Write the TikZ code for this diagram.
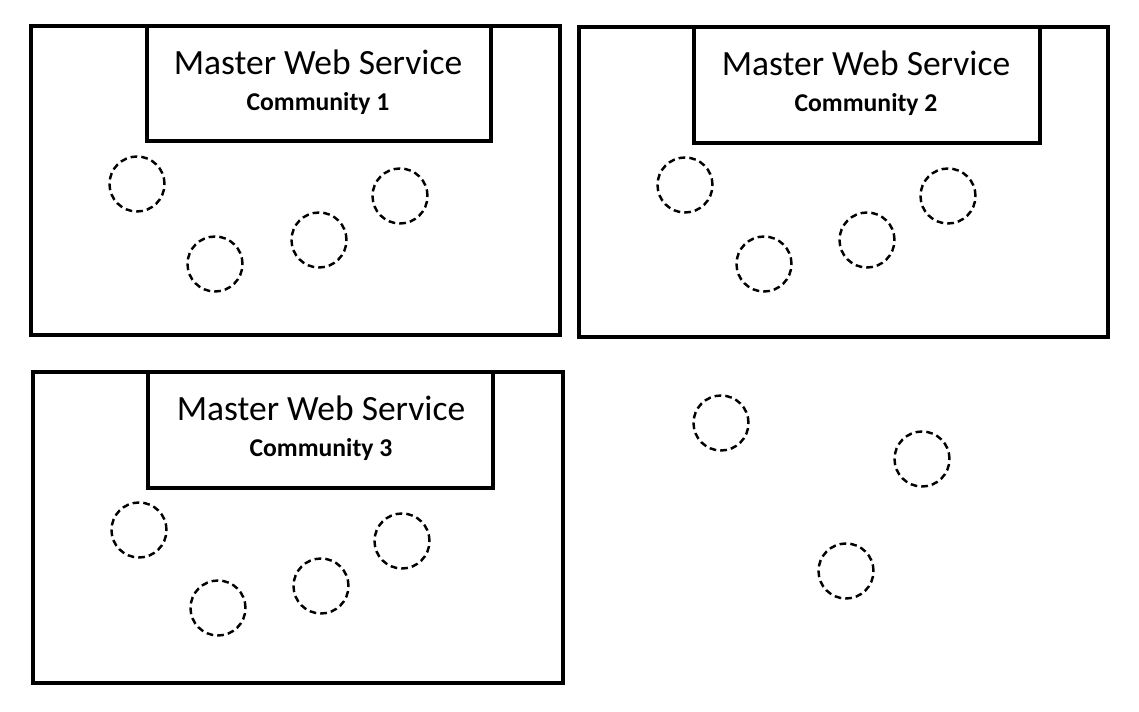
\documentclass[tikz,border=0pt]{standalone}
\usepackage{fontspec}
\setmainfont{Carlito}
\begin{document}
\begin{tikzpicture}[x=0.02cm,y=-0.02cm,
  frame/.style={line width=2.3pt,line join=miter},
  peer/.style={circle,draw,line width=1.4pt,dash pattern=on 3.8pt off 2.3pt,
    minimum size=1.1cm,inner sep=0pt},
  title/.style={font=\fontsize{20.2}{23}\selectfont},
  tag/.style={font=\bfseries\fontsize{14.6}{17}\selectfont}]
  \useasboundingbox (0,0) rectangle (1139,712);
  % community 1
  \draw[frame] (31,26) rectangle (560,335);
  \draw[frame] (147,26) rectangle (491,141);
  \node[title] (mws1) at (318,62) {Master Web Service};
  \node[tag] (com1) at (318,104) {Community 1};
  \node[peer] (p11) at (137,184) {};
  \node[peer] (p12) at (215,264) {};
  \node[peer] (p13) at (319,240) {};
  \node[peer] (p14) at (400,196) {};
  % community 2
  \draw[frame] (579,27) rectangle (1108,337);
  \draw[frame] (694,27) rectangle (1040,143);
  \node[title] (mws2) at (866,63) {Master Web Service};
  \node[tag] (com2) at (866,105) {Community 2};
  \node[peer] (p21) at (685,185) {};
  \node[peer] (p22) at (764,264) {};
  \node[peer] (p23) at (867,240) {};
  \node[peer] (p24) at (948,196) {};
  % community 3
  \draw[frame] (33,372) rectangle (563,683);
  \draw[frame] (148,372) rectangle (493,488);
  \node[title] (mws3) at (321,408) {Master Web Service};
  \node[tag] (com3) at (321,450) {Community 3};
  \node[peer] (p31) at (139,530) {};
  \node[peer] (p32) at (218,608) {};
  \node[peer] (p33) at (321,586) {};
  \node[peer] (p34) at (402,541) {};
  % outside any community
  \node[peer] (q1) at (721,423) {};
  \node[peer] (q2) at (922,459) {};
  \node[peer] (q3) at (846,571) {};
\end{tikzpicture}
\end{document}
